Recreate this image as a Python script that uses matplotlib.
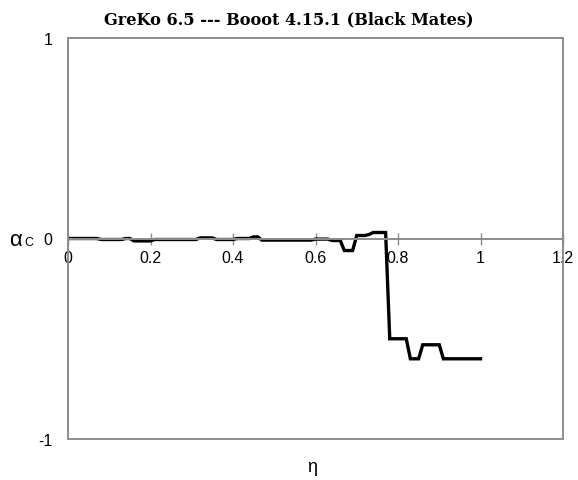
import numpy as np
import matplotlib
matplotlib.use("Agg")
import matplotlib.pyplot as plt

# eta sampled every 0.01 from 0 to 1
eta = [round(k * 0.01, 2) for k in range(101)]

# alpha_c, one value per eta step
alpha_c = (
    [0.0] * 8                    # 0.00 - 0.07
    + [-0.005] * 6               # 0.08 - 0.13
    + [0.0] * 2                  # 0.14 - 0.15
    + [-0.012] * 5               # 0.16 - 0.20
    + [-0.005] * 11              # 0.21 - 0.31
    + [0.003] * 4                # 0.32 - 0.35
    + [-0.005] * 5               # 0.36 - 0.40
    + [0.0] * 4                  # 0.41 - 0.44
    + [0.008] * 2                # 0.45 - 0.46
    + [-0.008] * 13              # 0.47 - 0.59
    + [-0.003] * 4               # 0.60 - 0.63
    + [-0.01] * 3                # 0.64 - 0.66
    + [-0.06] * 3                # 0.67 - 0.69
    + [0.015] * 3                # 0.70 - 0.72
    + [0.02]                     # 0.73
    + [0.03] * 4                 # 0.74 - 0.77
    + [-0.5] * 5                 # 0.78 - 0.82
    + [-0.6] * 3                 # 0.83 - 0.85
    + [-0.53] * 5                # 0.86 - 0.90
    + [-0.6] * 10                # 0.91 - 1.00
)

x_ticks = [0, 0.2, 0.4, 0.6, 0.8, 1, 1.2]
x_tick_labels = ["0", "0.2", "0.4", "0.6", "0.8", "1", "1.2"]
y_ticks = [-1, 0, 1]
y_tick_labels = ["-1", "0", "1"]

title = "GreKo 6.5 --- Booot 4.15.1 (Black Mates)"

plt.rcParams["font.family"] = ["Liberation Sans", "DejaVu Sans"]

fig = plt.figure(figsize=(5.78, 4.81), dpi=100)
ax = fig.add_axes([68 / 578, 41 / 481, (563 - 68) / 578, (440 - 39) / 481])

ax.plot(eta, alpha_c, color="black", lw=2.4, solid_joinstyle="miter")

ax.set_xlim(0, 1.2)
ax.set_ylim(-1, 1)

grey = "#8c8c8c"
for side in ["left", "right", "top"]:
    ax.spines[side].set_color(grey)
    ax.spines[side].set_linewidth(1.4)
# x axis runs through zero, the box bottom is drawn separately
ax.spines["bottom"].set_position(("data", 0))
ax.spines["bottom"].set_color(grey)
ax.spines["bottom"].set_linewidth(1.4)
ax.axhline(-1, color=grey, lw=1.4, clip_on=False)

ax.set_xticks(x_ticks)
ax.set_xticklabels(x_tick_labels)
ax.tick_params(axis="x", direction="inout", length=8, width=1, color=grey,
               labelsize=11.5, pad=4)
ax.set_yticks(y_ticks)
ax.set_yticklabels(y_tick_labels)
ax.tick_params(axis="y", length=0, labelsize=11.5, pad=11)

fig.text(0.5, 1 - 20 / 481, title, ha="center", va="center",
         family="DejaVu Serif", weight="bold", fontsize=11.6)
fig.text(312 / 578, 1 - 468 / 481, "η", ha="center", va="center", fontsize=13)
fig.text(9 / 578, 1 - 241 / 481, "α", ha="left", va="center", fontsize=16)
fig.text(24 / 578, 1 - 243 / 481, "C", ha="left", va="center", fontsize=9)

fig.savefig("out.png", dpi=100)
